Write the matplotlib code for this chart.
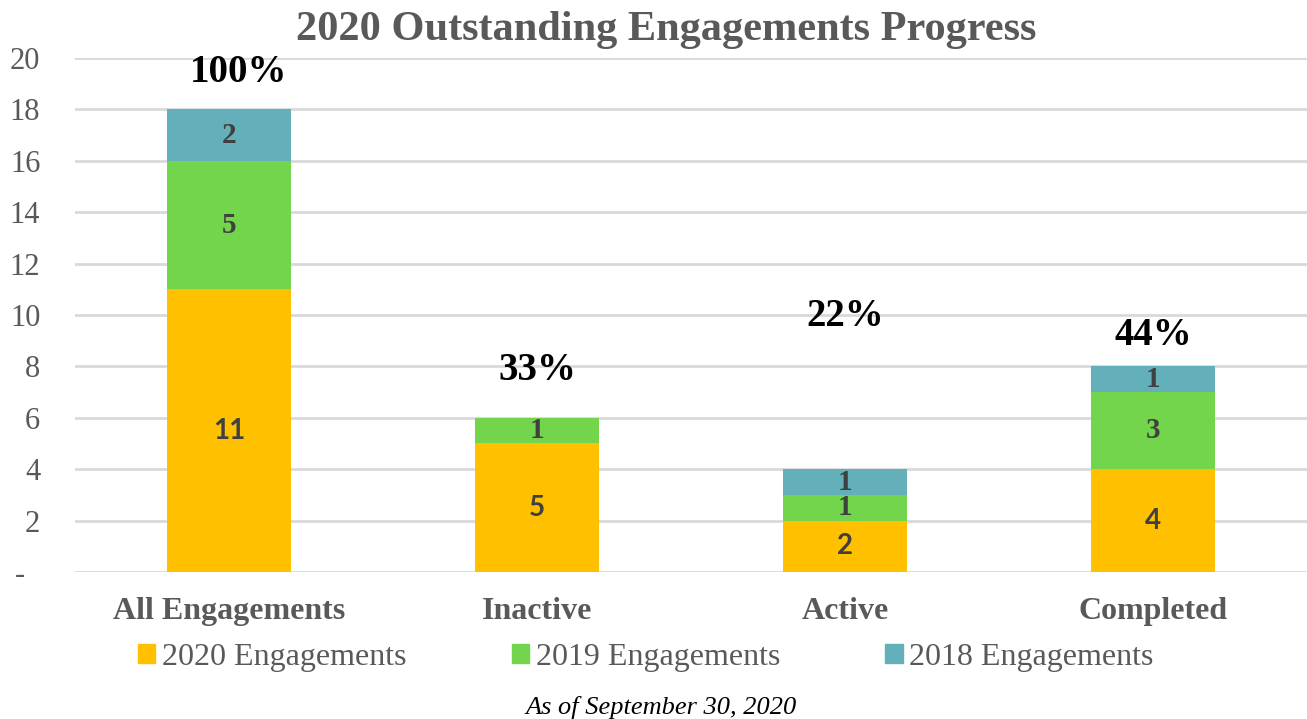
import numpy as np
import matplotlib
matplotlib.use('Agg')
import matplotlib.pyplot as plt
from matplotlib.patches import Patch

categories = ['All Engagements', 'Inactive', 'Active', 'Completed']
eng2020 = [11, 5, 2, 4]
eng2019 = [5, 1, 1, 3]
eng2018 = [2, 0, 1, 1]
series_names = ['2020 Engagements', '2019 Engagements', '2018 Engagements']
pct_x = [0.03, 0.0, 0.0, 0.0]     # small nudges of the percent labels
pct_y = [19.45, 7.85, 9.95, 9.2]   # where the percent labels sit

colors = ['#FFC000', '#72D54B', '#63B0BA']
gray = '#595959'
dark = '#404040'
serif = 'Liberation Serif'

fig = plt.figure(figsize=(13.07, 7.19), dpi=100)
ax = fig.add_axes([0.0574, 0.2045, 0.9426, 0.7149])

x = np.arange(len(categories))
w = 0.4
bottom = np.zeros(len(categories))
for vals, col, name in zip([eng2020, eng2019, eng2018], colors, series_names):
    vals = np.array(vals, dtype=float)
    ax.bar(x, vals, w, bottom=bottom, color=col, zorder=3, label=name)
    for xi, v, b in zip(x, vals, bottom):
        if v == 0:
            continue
        if col == colors[0]:
            ax.text(xi, b + v / 2, '%d' % v, ha='center', va='center', fontsize=20,
                    fontweight='bold', family='Lato', color=dark, zorder=4)
        else:
            ax.text(xi, b + v / 2, '%d' % v, ha='center', va='center', fontsize=21,
                    fontweight='bold', family=serif, color=dark, zorder=4)
    bottom += vals

# share of all engagements
total = bottom[0]
for xi, t, dx, py in zip(x, bottom, pct_x, pct_y):
    ax.text(xi + dx, py, '%d%%' % round(100 * t / total), ha='center', va='center',
            fontsize=28, fontweight='bold', family=serif, color='black', zorder=5)

ax.set_xlim(-0.5, 3.5)
ax.set_ylim(0, 20)
ax.set_yticks(range(0, 21, 2))
ax.set_yticklabels(['-  '] + [str(v) for v in range(2, 21, 2)], family=serif,
                   fontsize=22, color=gray)
ax.set_xticks(x)
ax.set_xticklabels(categories, family=serif, fontsize=23, fontweight='bold', color=gray)
ax.tick_params(length=0)
ax.tick_params(axis='y', pad=25)
ax.tick_params(axis='x', pad=18)
ax.grid(axis='y', color='#D9D9D9', linewidth=2, zorder=0)
for s in ax.spines.values():
    s.set_visible(False)

fig.text(0.51, 0.958, '2020 Outstanding Engagements Progress', ha='center', va='center',
         fontsize=30.5, fontweight='bold', family=serif, color=gray)

handles = [Patch(color=c) for c in colors]
leg = fig.legend(handles, series_names, loc='center', bbox_to_anchor=(0.494, 0.086), ncol=3,
                 frameon=False, prop={'family': serif, 'size': 23}, handlelength=0.55,
                 handleheight=0.55, handletextpad=0.2, columnspacing=3.3,
                 borderpad=0, borderaxespad=0)
for t in leg.get_texts():
    t.set_color(gray)

fig.text(0.506, 0.016, 'As of September 30, 2020', ha='center', va='center',
         fontsize=19, style='italic', family=serif, color='black')

fig.savefig('out.png', dpi=100)
